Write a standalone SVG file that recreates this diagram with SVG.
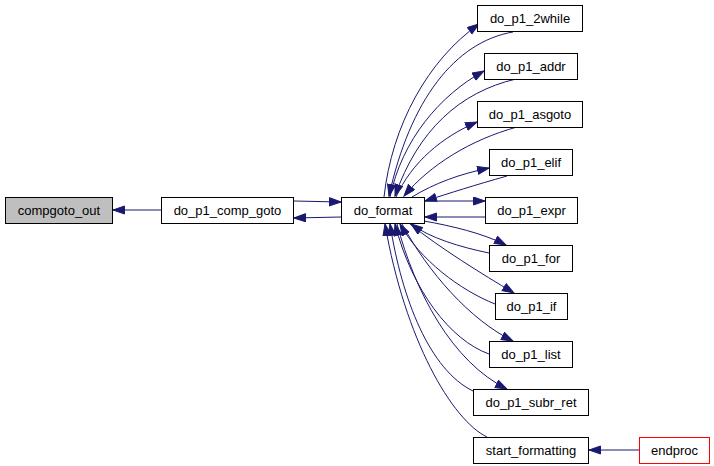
<svg xmlns="http://www.w3.org/2000/svg" width="714" height="466" viewBox="0 0 714 466">
<style>
.n rect{fill:#fff;stroke:#000;stroke-width:1}
.n text{font-family:"Liberation Sans",Arial,sans-serif;font-size:13px;fill:#000;text-anchor:middle}
.e path{fill:none;stroke:#191970;stroke-width:1;marker-end:url(#a)}
</style>
<defs>
<marker id="a" markerUnits="userSpaceOnUse" markerWidth="13" markerHeight="10" refX="12" refY="4.5" orient="auto">
<path d="M0.5,0.5 L12,4.5 L0.5,8.5 z" fill="#191970" stroke="#191970"/>
</marker>
</defs>
<rect width="714" height="466" fill="#fff"/>
<g class="e" id="edges">
<path d="M161,210 L113,210"/>
<path d="M294,201 L341,202"/>
<path d="M341,217 L294,218"/>
<path d="M639,450 L589,450"/>
<path d="M384,197 C392,125 428,60 479,24"/>
<path d="M513,32 C455,42 410,100 389,196"/>
<path d="M390,197 C402,140 440,95 484,71"/>
<path d="M516,79 C460,92 418,130 395,196"/>
<path d="M396,197 C412,162 442,137 477,122"/>
<path d="M517,127 C470,140 430,165 404,196"/>
<path d="M412,197 C435,183 460,174 489,168"/>
<path d="M507,176 C475,185 450,193 425,201"/>
<path d="M425,201 L485,201"/>
<path d="M485,217 L425,217"/>
<path d="M424,221 C452,226 482,233 506,245"/>
<path d="M489,253 C460,247 430,238 411,224"/>
<path d="M410,224 C440,248 482,274 514,293"/>
<path d="M495,304 C460,290 420,260 400,224"/>
<path d="M402,224 C428,272 470,320 513,341"/>
<path d="M489,354 C450,340 412,290 395,224"/>
<path d="M397,224 C415,292 452,362 507,389"/>
<path d="M473,391 C430,370 402,300 390,224"/>
<path d="M487,437 C452,420 405,340 385,224"/>
</g>
<g class="n" id="compgoto_out"><rect x="5.5" y="197.5" width="107" height="26" style="fill:#bfbfbf"/><text x="59" y="215">compgoto_out</text></g>
<g class="n" id="do_p1_comp_goto"><rect x="161.5" y="197.5" width="132" height="26"/><text x="227.5" y="215">do_p1_comp_goto</text></g>
<g class="n" id="do_format"><rect x="341.5" y="197.5" width="83" height="26"/><text x="383" y="215">do_format</text></g>
<g class="n" id="do_p1_2while"><rect x="477.5" y="5.5" width="105" height="26"/><text x="530" y="23">do_p1_2while</text></g>
<g class="n" id="do_p1_addr"><rect x="484.5" y="53.5" width="93" height="26"/><text x="531" y="71">do_p1_addr</text></g>
<g class="n" id="do_p1_asgoto"><rect x="477.5" y="101.5" width="105" height="26"/><text x="530" y="119">do_p1_asgoto</text></g>
<g class="n" id="do_p1_elif"><rect x="489.5" y="149.5" width="83" height="26"/><text x="531" y="167">do_p1_elif</text></g>
<g class="n" id="do_p1_expr"><rect x="485.5" y="197.5" width="92" height="26"/><text x="531.5" y="215">do_p1_expr</text></g>
<g class="n" id="do_p1_for"><rect x="489.5" y="245.5" width="83" height="26"/><text x="531" y="263">do_p1_for</text></g>
<g class="n" id="do_p1_if"><rect x="495.5" y="293.5" width="72" height="26"/><text x="531.5" y="311">do_p1_if</text></g>
<g class="n" id="do_p1_list"><rect x="489.5" y="341.5" width="83" height="26"/><text x="531" y="359">do_p1_list</text></g>
<g class="n" id="do_p1_subr_ret"><rect x="473.5" y="389.5" width="115" height="26"/><text x="531" y="407">do_p1_subr_ret</text></g>
<g class="n" id="start_formatting"><rect x="473.5" y="437.5" width="115" height="26"/><text x="531" y="455">start_formatting</text></g>
<g class="n" id="endproc"><rect x="639.5" y="437.5" width="70" height="26" style="stroke:#ff0000"/><text x="674.5" y="455">endproc</text></g>
</svg>
